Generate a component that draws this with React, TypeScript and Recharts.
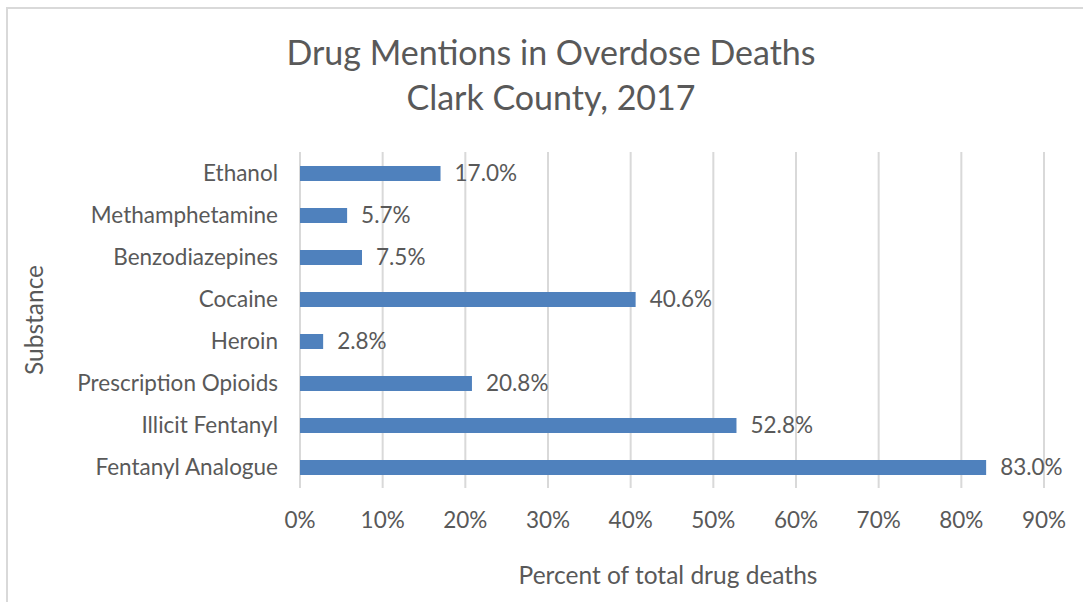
import React from "react";
import { BarChart, Bar, XAxis, YAxis, CartesianGrid, LabelList, Label } from "recharts";

const categories = [
  "Ethanol",
  "Methamphetamine",
  "Benzodiazepines",
  "Cocaine",
  "Heroin",
  "Prescription Opioids",
  "Illicit Fentanyl",
  "Fentanyl Analogue",
];
const percentValues = [17.0, 5.7, 7.5, 40.6, 2.8, 20.8, 52.8, 83.0];
const xTicks = [0, 10, 20, 30, 40, 50, 60, 70, 80, 90];

const data = categories.map((name, i) => ({ name, value: percentValues[i] }));

const FONT = "Lato, 'Open Sans', sans-serif";
const TEXT = "#595959";

export default function App() {
  return (
    <div
      style={{
        position: "absolute",
        left: 0,
        top: 0,
        width: 1083,
        height: 602,
        overflow: "hidden",
        background: "#fff",
        fontFamily: FONT,
      }}
    >
      <div
        style={{
          position: "absolute",
          left: 6,
          top: 7,
          width: 1200,
          height: 700,
          borderLeft: "2px solid #d9d9d9",
          borderTop: "2px solid #d9d9d9",
        }}
      />
      <div
        style={{
          position: "absolute",
          left: 0,
          top: 29,
          width: 1102,
          textAlign: "center",
          color: TEXT,
          fontSize: 34,
          lineHeight: "45px",
        }}
      >
        Drug Mentions in Overdose Deaths
        <br />
        Clark County, 2017
      </div>
      <div style={{ position: "absolute", left: 0, top: 0 }}>
        <BarChart
          width={1083}
          height={602}
          layout="vertical"
          data={data}
          margin={{ top: 152, right: 39, bottom: 0, left: 0 }}
          barCategoryGap={0}
        >
          <CartesianGrid horizontal={false} stroke="#d9d9d9" strokeWidth={2} />
          <XAxis
            type="number"
            dataKey="value"
            domain={[0, 90]}
            ticks={xTicks}
            interval={0}
            tickFormatter={(v: number) => `${v}%`}
            axisLine={false}
            tickLine={false}
            tick={{ fill: TEXT, fontSize: 22.5 }}
            tickMargin={18}
            height={114}
          >
            <Label
              value="Percent of total drug deaths"
              position="insideBottom"
              offset={18}
              style={{ fill: TEXT, fontSize: 24.5 }}
              dx={-4}
            />
          </XAxis>
          <YAxis
            type="category"
            dataKey="name"
            width={300}
            axisLine={false}
            tickLine={false}
            interval={0}
            tick={{ fill: TEXT, fontSize: 22.5 }}
            tickMargin={16}
          >
            <Label
              value="Substance"
              angle={-90}
              position="insideLeft"
              offset={34}
              style={{ fill: TEXT, fontSize: 24.5, textAnchor: "middle" }}
            />
          </YAxis>
          <Bar dataKey="value" fill="#4f81bd" barSize={15} isAnimationActive={false}>
            <LabelList
              dataKey="value"
              position="right"
              offset={14}
              formatter={(v: number) => `${v.toFixed(1)}%`}
              style={{ fill: TEXT, fontSize: 22.5 }}
            />
          </Bar>
        </BarChart>
      </div>
    </div>
  );
}
